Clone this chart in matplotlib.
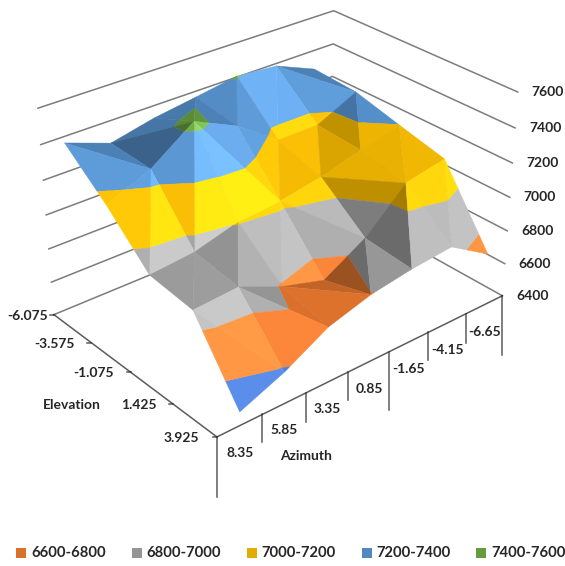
import numpy as np
import matplotlib
matplotlib.use("Agg")
import matplotlib.pyplot as plt
from matplotlib.colors import to_rgb
from matplotlib.patches import Rectangle
from mpl_toolkits.mplot3d import proj3d
from mpl_toolkits.mplot3d.art3d import Poly3DCollection

azimuth = [8.35, 5.85, 3.35, 0.85, -1.65, -4.15, -6.65]
elevation = [-6.075, -3.575, -1.075, 1.425, 3.925]
# one row per elevation, one column per azimuth
signal = np.array([
    [7364, 7273, 7329, 7366, 7406, 7385, 7286],
    [7155, 7262, 7440, 7326, 7155, 7156, 7269],
    [6912, 6937, 7007, 7029, 7074, 7140, 7199],
    [6879, 6897, 6790, 6718, 6861, 7085, 7132],
    [6479, 6584, 6724, 6797, 6836, 6859, 6712],
], float)

z_ticks = [6400, 6600, 6800, 7000, 7200, 7400, 7600]
band_colors = ['#3f68b4', '#d9702c', '#959595', '#e3ac00', '#5088c0', '#659c40']
legend_labels = ['6600-6800', '6800-7000', '7000-7200', '7200-7400', '7400-7600']

# quads split along the other diagonal
flipped = {(0, 0), (1, 0), (5, 0), (2, 1), (3, 2), (4, 2), (0, 3), (1, 3), (2, 3)}

GRID = '#7c7c7c'
INK = '#262626'
FONT = 'Lato'

xhi, xlo = 9.6, -7.9
ylo, yhi = elevation[0], elevation[-1]


def clip_half(poly, level, keep_above):
    out = []
    n = len(poly)
    for k in range(n):
        a, b = poly[k], poly[(k + 1) % n]
        ina = a[2] >= level if keep_above else a[2] <= level
        inb = b[2] >= level if keep_above else b[2] <= level
        if ina:
            out.append(a)
        if ina != inb:
            t = (level - a[2]) / (b[2] - a[2])
            out.append(a + t * (b - a))
    return out


def brightness(tri):
    # slope of the facet in box units, per grid step
    idx = np.array([[p[0], p[1], 1] for p in tri], float)
    zs = np.array([p[2] for p in tri], float)
    di, dj, _ = np.linalg.solve(idx, zs)
    n = np.array([-di / 277.0, -dj / 346.0, 1.0])
    n /= np.linalg.norm(n)
    side = 1.2 if n[0] < 0 else 0.7
    f = 1 + 0.52 * max(n[1], 0) + 0.3 * min(n[1], 0) - side * n[0] ** 2
    return np.clip(f, 0.72, 1.45)


def shaded(color, f):
    base = np.array(to_rgb(color))
    if f > 1:
        c = base * (1 + (f - 1) * 0.7) + (f - 1) * 0.18
    else:
        c = base * f
    return tuple(np.clip(c, 0, 1))


fig = plt.figure(figsize=(5.65, 5.66), dpi=100)
ax = fig.add_subplot(projection='3d', computed_zorder=False)
ax.set_xlim(xlo, xhi)
ax.set_ylim(ylo, yhi)
ax.set_zlim(z_ticks[0], z_ticks[-1])
ax.view_init(elev=29.0081, azim=49.9803)
ax.set_proj_type('persp', focal_length=0.6148)
ax.set_box_aspect((1.6152, 1.1537, 1))
ax.set_position([0.0365, 0.1774, 0.8946, 0.8946 * 5.65 / 5.66])
ax.apply_aspect()
ax.set_axis_off()

# wall gridlines
for z in z_ticks:
    ax.plot([xhi, xlo, xlo], [ylo, ylo, yhi], [z, z, z], color=GRID, lw=1.1, zorder=1)

# build the surface facets, cut into value bands
faces = []
colors = []
for j in range(len(elevation) - 1):
    for i in range(len(azimuth) - 1):
        if (i, j) in flipped:
            tris = [[(i, j), (i + 1, j), (i + 1, j + 1)], [(i, j), (i + 1, j + 1), (i, j + 1)]]
        else:
            tris = [[(i, j), (i + 1, j), (i, j + 1)], [(i + 1, j), (i + 1, j + 1), (i, j + 1)]]
        for tri in tris:
            f = brightness([(a, b, signal[b, a]) for a, b in tri])
            pts = [np.array([azimuth[a], elevation[b], signal[b, a]]) for a, b in tri]
            for k, col in enumerate(band_colors):
                poly = clip_half(pts, z_ticks[k], True)
                if len(poly) >= 3:
                    poly = clip_half(poly, z_ticks[k + 1], False)
                if len(poly) >= 3:
                    faces.append(np.array(poly))
                    colors.append(shaded(col, f))

surface = Poly3DCollection(faces, facecolors=colors, edgecolors=colors, linewidths=0.3, zorder=2)
ax.add_collection3d(surface)

# 2D layer for ticks and labels, in figure pixels
ov = fig.add_axes([0, 0, 1, 1])
ov.set_xlim(0, 565)
ov.set_ylim(566, 0)
ov.axis('off')
ov.patch.set_alpha(0)


def px(x, y, z):
    X, Y, _ = proj3d.proj_transform(np.array([x], float), np.array([y], float), np.array([z], float), ax.get_proj())
    p = ax.transData.transform([[X[0], Y[0]]])[0]
    return p[0], 566 - p[1]


base = z_ticks[0]
left = px(xhi, ylo, base)
front = px(xhi, yhi, base)
right = px(xlo, yhi, base)
ov.plot([left[0], front[0], right[0]], [left[1], front[1], right[1]], color=INK, alpha=0.75, lw=1.1)

# value labels at the right-hand ends of the gridlines
for z in z_ticks:
    p = px(xlo, yhi, z)
    ov.text(p[0] + 14, p[1], str(z), ha='left', va='center', fontsize=10,
            fontweight='bold', family=FONT, color=INK)

# elevation ticks and labels
label_gap = [6, 17, 17, 16, 18]
for e, gap in zip(elevation, label_gap):
    p = px(xhi, e, base)
    ov.plot([p[0] - 4, p[0]], [p[1], p[1]], color=INK, alpha=0.75, lw=1.1)
    ov.text(p[0] - gap, p[1] + 1, f'{e:g}', ha='right', va='center', fontsize=10,
            fontweight='bold', family=FONT, color=INK)

# azimuth ticks sit between categories, every third one is long
tick_len = [60, 28, 29, 28, 58, 28, 29, 59]
for k, length in enumerate(tick_len):
    p = px(xhi - k * 2.5, yhi, base)
    ov.plot([p[0], p[0]], [p[1], p[1] + length], color=INK, alpha=0.75, lw=1.1)
for a in azimuth:
    p = px(a, yhi, base)
    ov.text(p[0], p[1] + 27, f'{a:g}', ha='center', va='center', fontsize=10,
            fontweight='bold', family=FONT, color=INK)

ov.text(72, 405, 'Elevation', ha='center', va='center', fontsize=10, fontweight='bold', family=FONT, color=INK)
ov.text(306.5, 456, 'Azimuth', ha='center', va='center', fontsize=10, fontweight='bold', family=FONT, color=INK)

# legend row
swatch_x = [16, 131.5, 246.5, 361.5, 476]
for x0, label, col in zip(swatch_x, legend_labels, band_colors[1:]):
    ov.add_patch(Rectangle((x0, 548), 10, 10, facecolor=col, edgecolor='none'))
    ov.text(x0 + 15, 553, label, ha='left', va='center', fontsize=10.6, fontweight='bold', family=FONT, color=INK)

fig.savefig('out.png', dpi=100)
